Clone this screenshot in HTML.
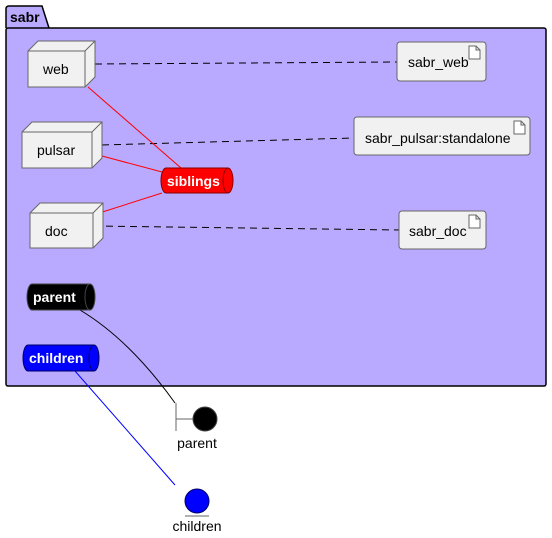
<!DOCTYPE html>
<html><head><style>body{margin:0;background:#fff}svg{display:block;font-family:"Liberation Sans","DejaVu Sans",sans-serif}</style></head><body>
<svg width="552" height="538" viewBox="0 0 552 538" xmlns="http://www.w3.org/2000/svg">
<path d="M6,28 L6,9 Q6,6 9,6 L42,6 L49,28" fill="#b9a9ff" stroke="#000" stroke-width="1.5"/>
<rect x="6" y="28" width="540" height="358" rx="2" fill="#b9a9ff" stroke="#000" stroke-width="1.5"/>
<text x="10" y="22" font-size="14" font-weight="bold">sabr</text>
<g stroke="#000" stroke-dasharray="7,5" fill="none">
<line x1="95" y1="64" x2="397" y2="62"/>
<line x1="102" y1="145" x2="354" y2="138"/>
<line x1="94" y1="226" x2="399" y2="230"/>
</g>
<g stroke="#ff0000" fill="none">
<line x1="88" y1="87" x2="181" y2="168"/>
<line x1="102" y1="156" x2="162" y2="172"/>
<line x1="93" y1="215" x2="162" y2="193"/>
</g>
<path d="M80,310 Q130,340 175,403" stroke="#000" fill="none"/>
<line x1="75" y1="371" x2="175" y2="485" stroke="#0000ff"/>
<g fill="#f1f1f1" stroke="#666">
<path d="M28,51 L38,41 L95,41 L95,77 L85,87 L28,87 Z"/><path d="M28,51 L85,51 L95,41 M85,51 L85,87" fill="none"/>
<path d="M22,132 L32,122 L102,122 L102,158 L92,168 L22,168 Z"/><path d="M22,132 L92,132 L102,122 M92,132 L92,168" fill="none"/>
<path d="M30,213 L40,203 L103,203 L103,238 L93,248 L30,248 Z"/><path d="M30,213 L93,213 L103,203 M93,213 L93,248" fill="none"/>
<rect x="397" y="42" width="89" height="39" rx="3"/>
<rect x="354" y="117" width="176" height="38" rx="3"/>
<rect x="399" y="211" width="87" height="38" rx="3"/>
</g>
<g fill="#fff" stroke="#666">
<path d="M469,46 h7 l4,4 v9 h-11 Z M476,46 v4 h4"/>
<path d="M514,121 h7 l4,4 v9 h-11 Z M521,121 v4 h4"/>
<path d="M469,215 h7 l4,4 v9 h-11 Z M476,215 v4 h4"/>
</g>
<g font-size="14" fill="#000">
<text x="43" y="74">web</text><text x="37" y="155">pulsar</text><text x="45" y="236">doc</text>
<text x="408" y="67">sabr_web</text><text x="365" y="143">sabr_pulsar:standalone</text><text x="409" y="236">sabr_doc</text>
</g>
<path d="M166,168 H228 A5,12.5 0 0 1 228,193 H166 A5,12.5 0 0 1 166,168 Z" fill="#ff0000" stroke="#800"/>
<path d="M228,168 A5,12.5 0 0 0 228,193" fill="none" stroke="#800"/>
<text x="167" y="186" font-size="14" font-weight="bold" fill="#fff">siblings</text>
<path d="M32,284 H90 A5,13 0 0 1 90,310 H32 A5,13 0 0 1 32,284 Z" fill="#000" stroke="#444"/>
<path d="M90,284 A5,13 0 0 0 90,310" fill="none" stroke="#444"/>
<text x="33" y="302" font-size="14" font-weight="bold" fill="#fff">parent</text>
<path d="M28,345 H94 A5,13 0 0 1 94,371 H28 A5,13 0 0 1 28,345 Z" fill="#0000ff" stroke="#006"/>
<path d="M94,345 A5,13 0 0 0 94,371" fill="none" stroke="#006"/>
<text x="29" y="363" font-size="14" font-weight="bold" fill="#fff">children</text>
<line x1="176" y1="403" x2="176" y2="431" stroke="#666"/>
<line x1="176" y1="419" x2="193" y2="419" stroke="#666"/>
<circle cx="205" cy="419" r="12" fill="#000" stroke="#444"/>
<text x="197" y="448" font-size="14" text-anchor="middle">parent</text>
<circle cx="197" cy="501" r="12" fill="#0000ff" stroke="#006"/>
<line x1="185" y1="516" x2="209" y2="516" stroke="#666"/>
<text x="197" y="531" font-size="14" text-anchor="middle">children</text>
</svg>
</body></html>
